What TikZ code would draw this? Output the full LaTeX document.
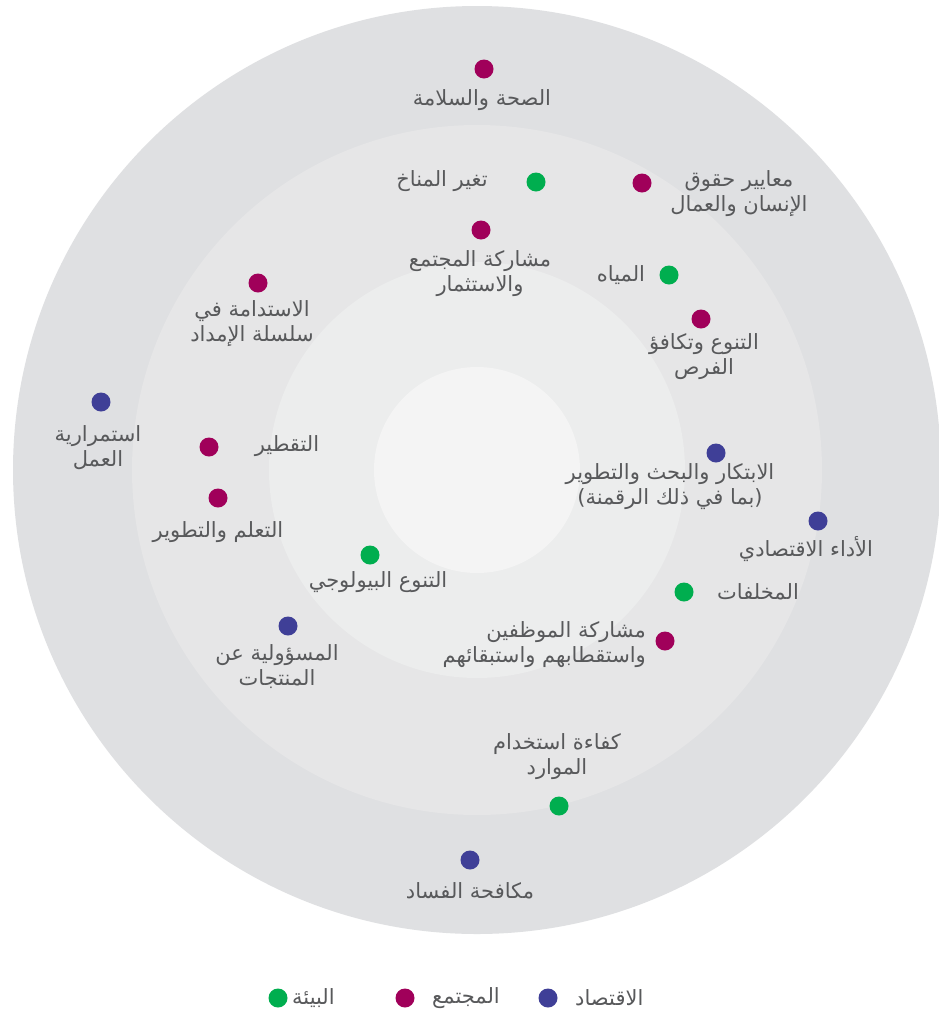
\documentclass[tikz,border=0pt]{standalone}
\usepackage{fontspec}
\TeXXeTstate=1
\newfontfamily\arabicfont[Script=Arabic]{DejaVu Sans}
\definecolor{ringA}{RGB}{223,224,226}
\definecolor{ringB}{RGB}{230,230,231}
\definecolor{ringC}{RGB}{236,237,237}
\definecolor{ringD}{RGB}{244,244,244}
\definecolor{envc}{RGB}{0,174,79}
\definecolor{socc}{RGB}{160,0,90}
\definecolor{ecoc}{RGB}{63,63,151}
\definecolor{txtc}{RGB}{88,89,91}
\tikzset{
  lbl/.style={font=\arabicfont\fontsize{21}{25}\selectfont, text=txtc, inner sep=0pt, align=center},
  lblr/.style={lbl, align=right},
  dotbase/.style={circle, minimum size=19pt, inner sep=0pt},
  dotenv/.style={dotbase, fill=envc},
  dotsoc/.style={dotbase, fill=socc},
  doteco/.style={dotbase, fill=ecoc},
}
\newcommand{\AR}[1]{\beginR #1\endR}
\begin{document}
\begin{tikzpicture}[x=1pt,y=-1pt]
\useasboundingbox (0,0) rectangle (939,1018);
\fill[white] (0,0) rectangle (939,1018);
% rings
\fill[ringA] (477,470) circle[radius=464pt];
\fill[ringB] (477,470) circle[radius=345pt];
\fill[ringC] (477,470) circle[radius=208pt];
\fill[ringD] (477,470) circle[radius=103pt];
% dots and labels
\node[dotsoc] (d1) at (484,69) {};
\node[lbl] (t1) at (482,100) {\AR{الصحة والسلامة}};
\node[dotenv] (d2) at (536,182) {};
\node[lbl] (t2) at (442,181) {\AR{تغير المناخ}};
\node[dotsoc] (d3) at (642,183) {};
\node[lbl] (t3) at (739,194) {\AR{معايير حقوق}\\\AR{الإنسان والعمال}};
\node[dotsoc] (d4) at (481,230) {};
\node[lbl] (t4) at (480,274) {\AR{مشاركة المجتمع}\\\AR{والاستثمار}};
\node[dotenv] (d5) at (669,275) {};
\node[lbl] (t5) at (621,275) {\AR{المياه}};
\node[dotsoc] (d6) at (701,319) {};
\node[lbl] (t6) at (704,357) {\AR{التنوع وتكافؤ}\\\AR{الفرص}};
\node[dotsoc] (d7) at (258,283) {};
\node[lbl] (t7) at (252,324) {\AR{الاستدامة في}\\\AR{سلسلة الإمداد}};
\node[doteco] (d8) at (101,402) {};
\node[lbl] (t8) at (98,448) {\AR{استمرارية}\\\AR{العمل}};
\node[dotsoc] (d9) at (209,447) {};
\node[lbl] (t9) at (287,446) {\AR{التقطير}};
\node[dotsoc] (d10) at (218,498) {};
\node[lbl] (t10) at (218,532) {\AR{التعلم والتطوير}};
\node[doteco] (d11) at (716,453) {};
\node[lbl] (t11) at (670,487) {\AR{الابتكار والبحث والتطوير}\\\AR{(بما في ذلك الرقمنة)}};
\node[doteco] (d12) at (818,521) {};
\node[lbl] (t12) at (806,549) {\AR{الأداء الاقتصادي}};
\node[dotenv] (d13) at (684,592) {};
\node[lbl] (t13) at (758,592) {\AR{المخلفات}};
\node[dotenv] (d14) at (370,555) {};
\node[lbl] (t14) at (378,582) {\AR{التنوع البيولوجي}};
\node[dotsoc] (d15) at (665,641) {};
\node[lblr, anchor=east] (t15) at (646,645) {\AR{مشاركة الموظفين}\\\AR{واستقطابهم واستبقائهم}};
\node[doteco] (d16) at (288,626) {};
\node[lbl] (t16) at (277,667) {\AR{المسؤولية عن}\\\AR{المنتجات}};
\node[dotenv] (d17) at (559,806) {};
\node[lbl] (t17) at (557,757) {\AR{كفاءة استخدام}\\\AR{الموارد}};
\node[doteco] (d18) at (470,860) {};
\node[lbl] (t18) at (470,891) {\AR{مكافحة الفساد}};
% legend
\node[dotenv] (lg1) at (278,998) {};
\node[lbl, anchor=west] (lt1) at (292,998) {\AR{البيئة}};
\node[dotsoc] (lg2) at (405,998) {};
\node[lbl, anchor=west] (lt2) at (432,998) {\AR{المجتمع}};
\node[doteco] (lg3) at (548,998) {};
\node[lbl, anchor=west] (lt3) at (575,998) {\AR{الاقتصاد}};
\end{tikzpicture}
\end{document}
